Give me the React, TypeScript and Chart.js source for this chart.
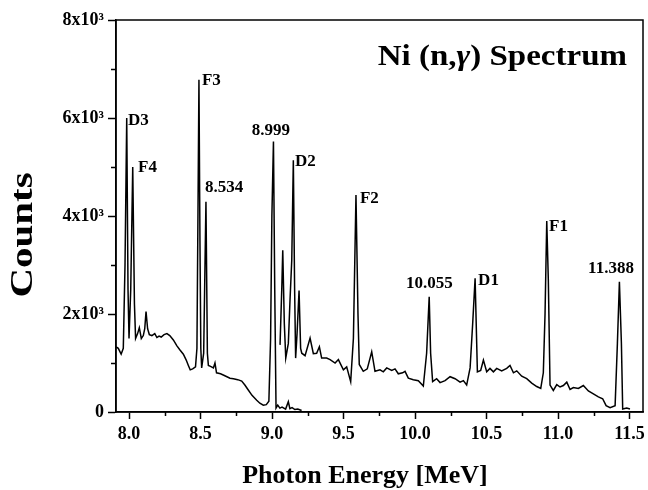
import { useEffect, useRef } from 'react';
import { Chart, registerables } from 'chart.js';

Chart.register(...registerables);

// ---- Data ----
// Low-energy trace (ends near 9.2 MeV)
const LOW_ENERGY = [
  7.91, 7.925, 7.945, 7.96, 7.972, 7.984, 7.993, 8.0, 8.012, 8.026, 8.038, 8.046,
  8.06, 8.072, 8.086, 8.1, 8.11, 8.119, 8.13, 8.142, 8.16, 8.18, 8.195, 8.21, 8.225,
  8.245, 8.265, 8.285, 8.31, 8.335, 8.355, 8.38, 8.4, 8.415, 8.428, 8.445, 8.465,
  8.475, 8.482, 8.489, 8.496, 8.502, 8.508, 8.522, 8.538, 8.548, 8.555, 8.57, 8.59,
  8.601, 8.612, 8.64, 8.67, 8.706, 8.73, 8.76, 8.788, 8.81, 8.834, 8.86, 8.893,
  8.915, 8.939, 8.96, 8.978, 8.99, 8.999, 9.01, 9.019, 9.028, 9.04, 9.055, 9.07,
  9.095, 9.114, 9.125, 9.14, 9.16, 9.18, 9.207,
];
const LOW_COUNTS = [
  1330, 1300, 1180, 1300, 3000, 6000, 2500, 1500, 2500, 5000, 2200, 1500,
  1600, 1720, 1500, 1560, 1700, 2050, 1700, 1580, 1560, 1600, 1520, 1550, 1530,
  1580, 1600, 1560, 1470, 1350, 1270, 1180, 1060, 950, 860, 880, 920,
  1300, 4000, 6780, 3500, 1300, 900, 1200, 4290, 1200, 950, 930, 900,
  1000, 800, 780, 740, 690, 680, 660, 630, 550, 450, 340, 240,
  180, 140, 150, 220, 1500, 4000, 5520, 2500, 80, 140, 80, 100,
  60, 210, 70, 90, 50, 60, 30,
];
// High-energy trace (starts near 9.05 MeV)
const HIGH_ENERGY = [
  9.056, 9.068, 9.075, 9.086, 9.096, 9.114, 9.126, 9.138, 9.149, 9.158, 9.165,
  9.175, 9.189, 9.2, 9.208, 9.231, 9.266, 9.289, 9.312, 9.331, 9.347, 9.382,
  9.406, 9.441, 9.464, 9.499, 9.522, 9.55, 9.569, 9.587, 9.601, 9.61, 9.638,
  9.666, 9.697, 9.72, 9.755, 9.778, 9.802, 9.837, 9.86, 9.883, 9.913, 9.93,
  9.953, 9.988, 10.023, 10.058, 10.081, 10.099, 10.109, 10.123, 10.151, 10.175,
  10.21, 10.245, 10.28, 10.315, 10.338, 10.361, 10.385, 10.403, 10.42, 10.436,
  10.459, 10.478, 10.501, 10.524, 10.548, 10.571, 10.606, 10.641, 10.664, 10.688,
  10.711, 10.746, 10.781, 10.816, 10.851, 10.879, 10.897, 10.909, 10.921, 10.932,
  10.944, 10.967, 10.991, 11.014, 11.037, 11.061, 11.084, 11.107, 11.142, 11.177,
  11.212, 11.247, 11.282, 11.312, 11.336, 11.364, 11.399, 11.415, 11.429, 11.443,
  11.452, 11.48, 11.503,
];
const HIGH_COUNTS = [
  1370, 2500, 3300, 1800, 1100, 1400, 2300, 3100, 5140, 2500, 1100,
  1600, 2480, 1300, 1200, 1150, 1510, 1190, 1200, 1330, 1100, 1100,
  1070, 1000, 1070, 860, 920, 620, 1500, 4430, 2000, 970, 830,
  880, 1230, 830, 860, 820, 900, 850, 880, 780, 800, 830,
  690, 660, 640, 530, 1200, 2350, 1200, 620, 680, 600,
  640, 720, 680, 610, 640, 550, 900, 1800, 2730, 820,
  850, 1060, 820, 890, 820, 890, 840, 890, 950, 800,
  840, 730, 680, 590, 520, 480, 800, 2000, 3900, 2700,
  550, 440, 560, 510, 540, 610, 460, 500, 480, 540,
  430, 370, 310, 270, 130, 90, 130, 1400, 2660, 1400,
  60, 80, 60,
];

const X_TICKS = [8.0, 8.5, 9.0, 9.5, 10.0, 10.5, 11.0, 11.5];
const X_MINOR_TICKS = [8.25, 8.75, 9.25, 9.75, 10.25, 10.75, 11.25];
const Y_TICKS = [0, 2000, 4000, 6000, 8000];
const Y_TICK_LABELS = ['0', '2x10\u00B3', '4x10\u00B3', '6x10\u00B3', '8x10\u00B3'];
const Y_MINOR_TICKS = [1000, 3000, 5000, 7000];

const PEAK_LABELS = ['D3', 'F4', 'F3', '8.534', '8.999', 'D2', 'F2', '10.055', 'D1', 'F1', '11.388'];
const PEAK_LABEL_ENERGY = [7.993, 8.063, 8.51, 8.531, 8.858, 9.161, 9.615, 9.937, 10.441, 10.937, 11.21];
const PEAK_LABEL_COUNTS = [5857, 4898, 6673, 4490, 5653, 5020, 4265, 2531, 2592, 3694, 2837];

const X_MIN = 7.909;
const X_MAX = 11.594;
const Y_MIN = 0;
const Y_MAX = 8000;

const SERIF = "'Liberation Serif', 'Times New Roman', serif";

const decorPlugin = {
  id: 'decor',
  afterDraw(chart: any) {
    const { ctx, chartArea } = chart;
    const xs = chart.scales.x;
    const ys = chart.scales.y;
    ctx.save();
    // frame
    ctx.strokeStyle = '#000';
    ctx.lineWidth = 1.5;
    ctx.strokeRect(chartArea.left, chartArea.top, chartArea.right - chartArea.left, chartArea.bottom - chartArea.top);
    // minor ticks
    ctx.beginPath();
    for (const v of Y_MINOR_TICKS) {
      const py = Math.round(ys.getPixelForValue(v)) + 0.5;
      ctx.moveTo(chartArea.left - 5, py);
      ctx.lineTo(chartArea.left, py);
    }
    for (const v of X_MINOR_TICKS) {
      const px = Math.round(xs.getPixelForValue(v)) + 0.5;
      ctx.moveTo(px, chartArea.bottom);
      ctx.lineTo(px, chartArea.bottom + 4);
    }
    ctx.stroke();

    // peak labels
    ctx.fillStyle = '#000';
    ctx.font = `bold 17px ${SERIF}`;
    ctx.textAlign = 'left';
    ctx.textBaseline = 'alphabetic';
    PEAK_LABELS.forEach((t, i) => {
      ctx.fillText(t, xs.getPixelForValue(PEAK_LABEL_ENERGY[i]), ys.getPixelForValue(PEAK_LABEL_COUNTS[i]));
    });

    // chart title: Ni (n,γ) Spectrum (γ in italic), slightly wide as in the reference
    const parts: [string, string][] = [
      ['Ni (n,', `bold 30px ${SERIF}`],
      ['\u03B3', `italic bold 30px ${SERIF}`],
      [') Spectrum', `bold 30px ${SERIF}`],
    ];
    const sx = 1.1;
    let total = 0;
    for (const [t, f] of parts) { ctx.font = f; total += ctx.measureText(t).width; }
    ctx.save();
    ctx.translate(chartArea.right - 16 - total * sx, chartArea.top + 45);
    ctx.scale(sx, 1);
    let tx = 0;
    for (const [t, f] of parts) { ctx.font = f; ctx.fillText(t, tx, 0); tx += ctx.measureText(t).width; }
    ctx.restore();

    // axis titles
    ctx.font = `bold 26px ${SERIF}`;
    ctx.textAlign = 'center';
    ctx.fillText('Photon Energy [MeV]', 365, 483);
    ctx.save();
    ctx.translate(32, 235);
    ctx.rotate(-Math.PI / 2);
    ctx.scale(1.28, 1);
    ctx.font = `bold 32px ${SERIF}`;
    ctx.fillText('Counts', 0, 0);
    ctx.restore();
    ctx.restore();
  },
};

export default function App() {
  const ref = useRef<HTMLCanvasElement | null>(null);
  useEffect(() => {
    if (!ref.current) return;
    const tickFont = { family: SERIF, size: 18, weight: 'bold' as const };
    const chart = new Chart(ref.current, {
      type: 'scatter',
      data: {
        datasets: [
          {
            data: LOW_ENERGY.map((x, i) => ({ x, y: LOW_COUNTS[i] })),
            showLine: true,
            borderColor: '#000',
            borderWidth: 1.5,
            pointRadius: 0,
            tension: 0,
          },
          {
            data: HIGH_ENERGY.map((x, i) => ({ x, y: HIGH_COUNTS[i] })),
            showLine: true,
            borderColor: '#000',
            borderWidth: 1.5,
            pointRadius: 0,
            tension: 0,
          },
        ],
      },
      options: {
        animation: false,
        responsive: false,
        maintainAspectRatio: false,
        layout: { padding: { top: 20, right: 5, left: 0, bottom: 0 } },
        plugins: { legend: { display: false }, tooltip: { enabled: false }, title: { display: false } },
        scales: {
          x: {
            type: 'linear',
            min: X_MIN,
            max: X_MAX,
            afterBuildTicks: (s: any) => { s.ticks = X_TICKS.map((v) => ({ value: v })); },
            afterFit: (s: any) => { s.height = 78; s.paddingLeft = 0; s.paddingRight = 0; },
            ticks: {
              callback: (v: any) => Number(v).toFixed(1),
              font: tickFont,
              color: '#000',
              padding: 5,
              maxRotation: 0,
              autoSkip: false,
            },
            grid: { drawOnChartArea: false, tickLength: 7, tickColor: '#000', tickWidth: 1.5 },
            border: { color: '#000', width: 1.5 },
          },
          y: {
            type: 'linear',
            min: Y_MIN,
            max: Y_MAX,
            afterBuildTicks: (s: any) => { s.ticks = Y_TICKS.map((v) => ({ value: v })); },
            afterFit: (s: any) => { s.width = 116; s.paddingTop = 0; s.paddingBottom = 0; },
            ticks: {
              callback: (v: any) => {
                const i = Y_TICKS.indexOf(Number(v));
                return i >= 0 ? Y_TICK_LABELS[i] : '';
              },
              font: tickFont,
              color: '#000',
              padding: 4,
              autoSkip: false,
            },
            grid: { drawOnChartArea: false, tickLength: 8, tickColor: '#000', tickWidth: 1.5 },
            border: { color: '#000', width: 1.5 },
          },
        },
      },
      plugins: [decorPlugin],
    } as any);
    return () => chart.destroy();
  }, []);
  return (
    <div style={{ position: 'fixed', left: 0, top: 0, width: 648, height: 490, background: '#fff' }}>
      <canvas ref={ref} width={648} height={490} style={{ display: 'block', width: 648, height: 490 }} />
    </div>
  );
}
